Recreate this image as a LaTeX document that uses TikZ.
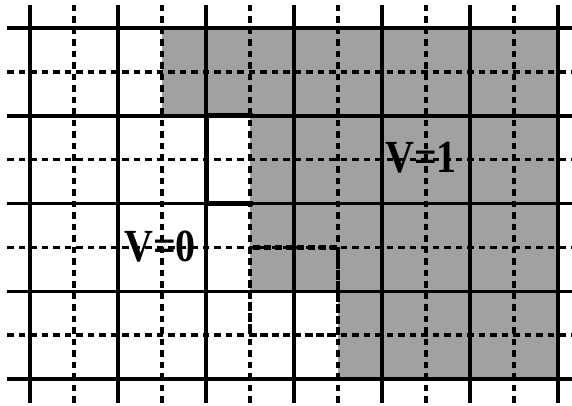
\documentclass[tikz,border=0pt]{standalone}
\usepackage{fontspec}
\setmainfont{Liberation Serif}
\begin{document}
\begin{tikzpicture}[x=1pt,y=-1pt,
  solidline/.style={line width=3.4pt},
  dashline/.style={line width=3.4pt,dash pattern=on 6.5pt off 5pt},
  boxline/.style={line width=5pt,line cap=rect},
  dualbox/.style={line width=4.4pt,dash pattern=on 7pt off 4pt},
  shade/.style={fill=black!37},
  lbl/.style={font=\bfseries\fontsize{40}{40}\selectfont,inner sep=0pt,anchor=base,yscale=1.15}]
\useasboundingbox (0,0) rectangle (572,406);
% shaded region V=1
\fill[shade] (162,28) -- (558,28) -- (558,379) -- (338,379) -- (338,291.25)
  -- (250,291.25) -- (250,116) -- (162,116) -- cycle;
% dashed grid
\foreach \x in {74,162,250,338,426,514}
  \draw[dashline] (\x,5) -- (\x,403);
\foreach \y in {71.9,159.6,247.4,335.1}
  \draw[dashline] (7,\y) -- (572,\y);
% solid grid
\foreach \x in {30,118,206,294,382,470,558}
  \draw[solidline] (\x,5) -- (\x,403);
\foreach \y in {28,116,203.5,291.25,379}
  \draw[solidline] (7,\y) -- (572,\y);
% thick plaquette box
\draw[boxline] (250,116) -- (206,116) -- (206,203.5) -- (250,203.5);
% thick dashed dual square
\draw[dualbox] (250,247.4) rectangle (338,335.1);
% labels
\node[lbl] (v1) at (421,172) {V=1};
\node[lbl] (v0) at (160,261) {V=0};
\end{tikzpicture}
\end{document}
